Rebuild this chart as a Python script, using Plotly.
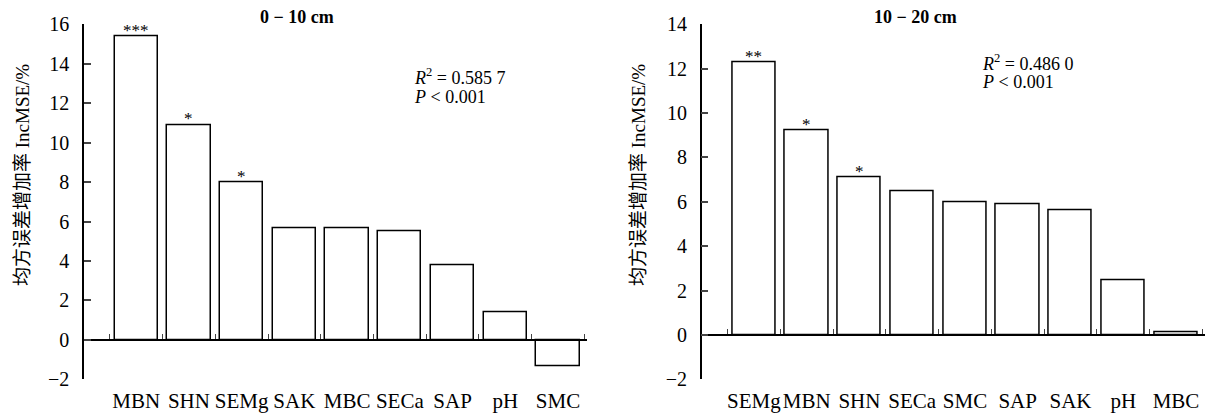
import plotly.graph_objects as go

# ---- data ----
cats_top = ["MBN", "SHN", "SEMg", "SAK", "MBC", "SECa", "SAP", "pH", "SMC"]
vals_top = [15.38, 10.9, 7.98, 5.64, 5.64, 5.49, 3.77, 1.38, -1.35]
stars_top = ["***", "*", "*", "", "", "", "", "", ""]

cats_sub = ["SEMg", "MBN", "SHN", "SECa", "SMC", "SAP", "SAK", "pH", "MBC"]
vals_sub = [12.28, 9.23, 7.09, 6.47, 5.98, 5.87, 5.6, 2.45, 0.12]
stars_sub = ["**", "*", "*", "", "", "", "", "", ""]

titles = ["0 − 10 cm", "10 − 20 cm"]
stats = [("0.585 7", "< 0.001"), ("0.486 0", "< 0.001")]
y_ranges = [(-2, 16), (-2, 14)]
y_title = "均方误差增加率 IncMSE/%"

FW, FH = 1208, 414
FONT = "Liberation Serif, Times New Roman, Noto Sans CJK SC, serif"

def px(sx):
    return sx / FW

def py(sy):
    return 1 - sy / FH

x_dom = [(px(84), px(587)), (px(701.7), px(1205))]
y_dom = (py(379.4), py(24.3))
x_rng = (-0.99, 8.55)

fig = go.Figure()

panels = [(cats_top, vals_top, stars_top), (cats_sub, vals_sub, stars_sub)]
for i, (cats, vals, stars) in enumerate(panels):
    xa = "x" if i == 0 else "x3"
    ya = "y" if i == 0 else "y2"
    idx = list(range(len(cats)))
    fig.add_trace(go.Bar(
        x=idx, y=vals, width=0.82,
        marker=dict(color="white", line=dict(color="black", width=1.5)),
        xaxis=xa, yaxis=ya, showlegend=False, hoverinfo="skip",
    ))
    for k, (v, s) in enumerate(zip(vals, stars)):
        if s:
            fig.add_annotation(x=k, y=v, xref=xa, yref=ya, text=s,
                               showarrow=False, xanchor="center",
                               yanchor="middle", yshift=6,
                               font=dict(family=FONT, size=17, color="black"))

def zero_pos(rng):
    lo, hi = rng
    return y_dom[0] + (0 - lo) / (hi - lo) * (y_dom[1] - y_dom[0])

xtick_font = dict(family=FONT, size=21, color="black")
ytick_font = dict(family=FONT, size=20, color="black")
bounds = [k - 0.5 for k in range(10)]

def cat_axis(dom, anchor, cats):
    return dict(domain=dom, anchor=anchor, range=x_rng, automargin=False,
                tickmode="array", tickvals=list(range(len(cats))), ticktext=cats,
                tickangle=0,
                showline=False, ticks="", showgrid=False, zeroline=False,
                tickfont=xtick_font, ticklabelstandoff=7)

def zero_axis(over, rng):
    return dict(overlaying=over, anchor="free", position=zero_pos(rng),
                range=x_rng, automargin=False, tickmode="array", tickvals=bounds,
                showticklabels=False, ticks="inside", ticklen=5, tickwidth=1.2,
                showline=True, linecolor="black", linewidth=1.5,
                showgrid=False, zeroline=False)

def val_axis(anchor, rng):
    return dict(domain=y_dom, anchor=anchor, range=rng, automargin=False,
                tickmode="linear", tick0=-2, dtick=2,
                showline=True, linecolor="black", linewidth=1.5,
                ticks="inside", ticklen=7, tickwidth=1.5,
                showgrid=False, zeroline=False,
                tickfont=ytick_font, ticklabelstandoff=9)

fig.update_layout(
    width=FW, height=FH,
    margin=dict(l=0, r=0, t=0, b=0, autoexpand=False),
    paper_bgcolor="white", plot_bgcolor="white",
    font=dict(family=FONT, color="black"),
    bargap=0,
    xaxis=cat_axis(x_dom[0], "y", cats_top),
    xaxis2=zero_axis("x", y_ranges[0]),
    yaxis=val_axis("x", y_ranges[0]),
    xaxis3=cat_axis(x_dom[1], "y2", cats_sub),
    xaxis4=zero_axis("x3", y_ranges[1]),
    yaxis2=val_axis("x3", y_ranges[1]),
)

# dummy traces so overlay axes render
fig.add_trace(go.Scatter(x=[None], y=[None], xaxis="x2", yaxis="y", showlegend=False))
fig.add_trace(go.Scatter(x=[None], y=[None], xaxis="x4", yaxis="y2", showlegend=False))

title_x = [297, 915]
stat_x = [412, 980]
stat_y = [(77, 97), (62, 82)]
ytitle_x = [22, 638]
for i in range(2):
    fig.add_annotation(text="<b>" + titles[i] + "</b>", x=px(title_x[i]), y=py(17),
                       xref="paper", yref="paper", showarrow=False,
                       xanchor="center", yanchor="middle",
                       font=dict(family=FONT, size=18, color="black"))
    fig.add_annotation(text="<i>R</i><sup>2</sup> = " + stats[i][0],
                       x=px(stat_x[i]), y=py(stat_y[i][0]),
                       xref="paper", yref="paper", showarrow=False,
                       xanchor="left", yanchor="middle",
                       font=dict(family=FONT, size=18, color="black"))
    fig.add_annotation(text="<i>P</i> " + stats[i][1],
                       x=px(stat_x[i]), y=py(stat_y[i][1]),
                       xref="paper", yref="paper", showarrow=False,
                       xanchor="left", yanchor="middle",
                       font=dict(family=FONT, size=18, color="black"))
    fig.add_annotation(text=y_title, textangle=-90,
                       x=px(ytitle_x[i]), y=py(175),
                       xref="paper", yref="paper", showarrow=False,
                       xanchor="center", yanchor="middle",
                       font=dict(family=FONT, size=19, color="black"))

# remove the default page margin so the figure fills the window exactly
fig.write_html("out.html",
               config={"displayModeBar": False},
               post_script="document.body.style.margin='0';document.body.style.overflow='hidden';")
